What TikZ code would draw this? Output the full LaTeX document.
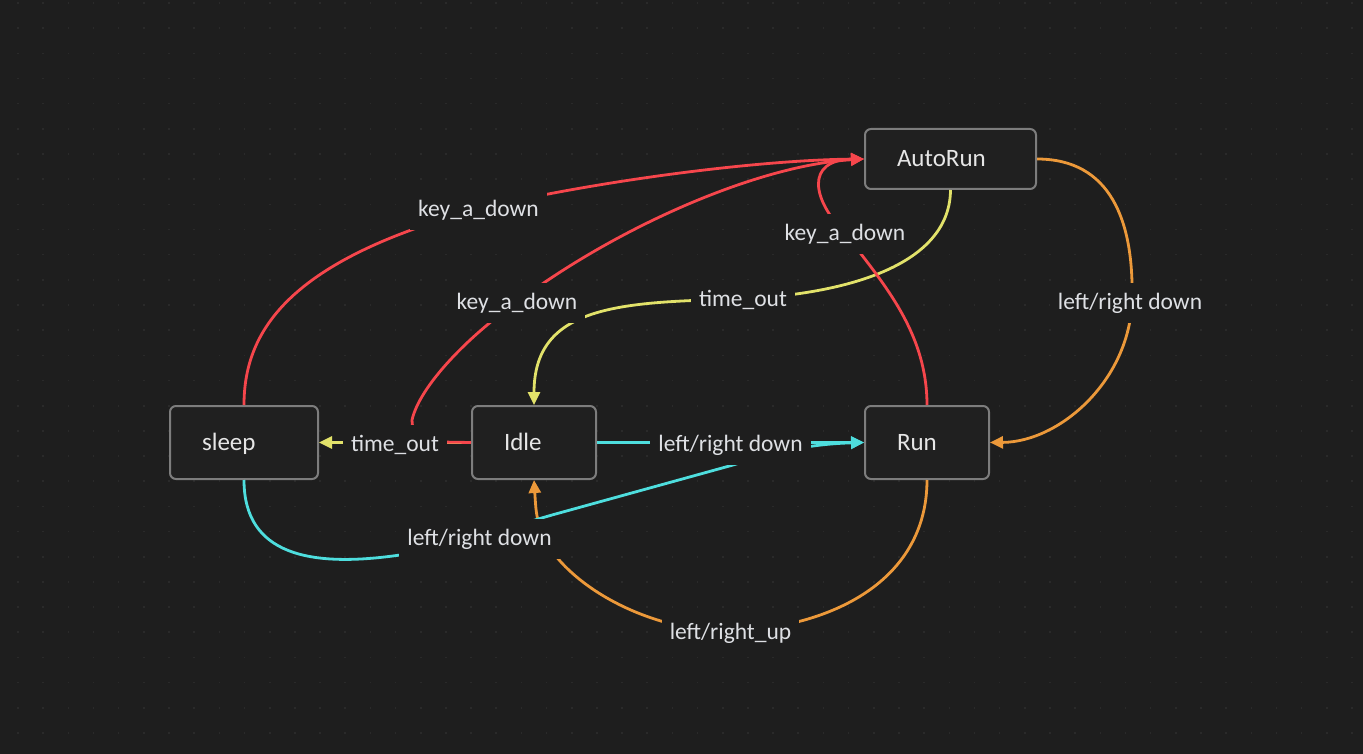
\documentclass[tikz,border=0pt]{standalone}
\usepackage{fontspec}
\setmainfont{Carlito}
\usetikzlibrary{arrows.meta}
\definecolor{bg}{RGB}{30,30,30}
\definecolor{dotc}{RGB}{42,42,42}
\definecolor{boxfill}{RGB}{32,32,32}
\definecolor{boxline}{RGB}{125,125,125}
\definecolor{txt}{RGB}{230,230,230}
\definecolor{lbltxt}{RGB}{222,224,228}
\definecolor{ered}{RGB}{246,70,76}
\definecolor{eyel}{RGB}{226,226,106}
\definecolor{eora}{RGB}{236,153,58}
\definecolor{ecya}{RGB}{78,222,222}
\begin{document}
\begin{tikzpicture}[x=1pt,y=-1pt,
 statebox/.style={draw=boxline, line width=2pt, fill=boxfill, rounded corners=6pt, text=txt,
   font=\fontsize{25}{29}\selectfont, align=left, inner xsep=32pt, inner ysep=0pt,
   minimum height=73pt, text height=17pt, text depth=1pt},
 edge/.style={line width=2.8pt, -{Triangle[length=13pt,width=12pt]}},
 lbl/.style={fill=bg, text=lbltxt, font=\fontsize{23.5}{28}\selectfont, inner xsep=8pt,
   inner ysep=0pt, minimum height=40pt, text height=17pt, text depth=4pt}]
\fill[bg] (0,0) rectangle (1363,754);
\useasboundingbox (0,0) rectangle (1363,754);
\foreach \i in {0,...,54}{
  \foreach \j in {0,...,29}{
    \fill[dotc] ({17.2+25.17*\i},{2.2+25.17*\j}) rectangle ++(1.6,1.6);
  }
}
% states
\node[statebox, text width=107pt, minimum height=60pt] (auto) at (950.5,159) {AutoRun};
\node[statebox, text width=84pt] (sleep) at (244,442.5) {sleep};
\node[statebox, text width=60pt] (idle) at (534,442.5) {Idle};
\node[statebox, text width=60pt] (run) at (927,442.5) {Run};
% yellow
\draw[edge,eyel] (auto.south) .. controls (950,260) and (860,293) .. (742,299)
   .. controls (620,302) and (534,305) .. (idle.north);
\draw[edge,eyel] (idle.west) -- (sleep.east);
% orange
\draw[edge,eora] (auto.east) .. controls (1110,159) and (1134,220) .. (1132,300)
   .. controls (1130,380) and (1060,442) .. (run.east);
\draw[edge,eora] (run.south) .. controls (927,570) and (850,625) .. (730,632)
   .. controls (640,630) and (560,580) .. (540,530) .. controls (536,512) .. (idle.south);
% cyan
\draw[edge,ecya] (idle.east) -- (run.west);
\draw[edge,ecya] (sleep.south) .. controls (244,555) and (310,568) .. (400,555)
   .. controls (440,550) and (500,530) .. (552,515) -- (733,465)
   .. controls (775,452) and (810,444) .. (run.west);
% red
\draw[edge,ered] (sleep.north) .. controls (244,330) and (290,260) .. (478,209)
   .. controls (600,180) and (760,160) .. (auto.west);
\draw[edge,ered] (idle.west) -- (440,442) .. controls (418,442) and (412,432) .. (412,420)
   .. controls (420,385) and (470,335) .. (517,302)
   .. controls (620,225) and (760,165) .. (auto.west);
\draw[edge,ered] (run.north) .. controls (927,330) and (880,280) .. (845,233)
   .. controls (812,200) and (805,160) .. (auto.west);
% labels
\node[lbl] (l1) at (478.5,210) {key\_a\_down};
\node[lbl] (l2) at (517,303) {key\_a\_down};
\node[lbl] (l3) at (845,234) {key\_a\_down};
\node[lbl] (l4) at (743,300) {time\_out};
\node[lbl] (l5) at (1130,303) {left/right down};
\node[lbl] (l6) at (730.5,445) {left/right down};
\node[lbl] (l7) at (479.5,539) {left/right down};
\node[lbl] (l8) at (730.5,633) {left/right\_up};
\node[lbl] (l9) at (395,445) {time\_out};
\end{tikzpicture}
\end{document}
